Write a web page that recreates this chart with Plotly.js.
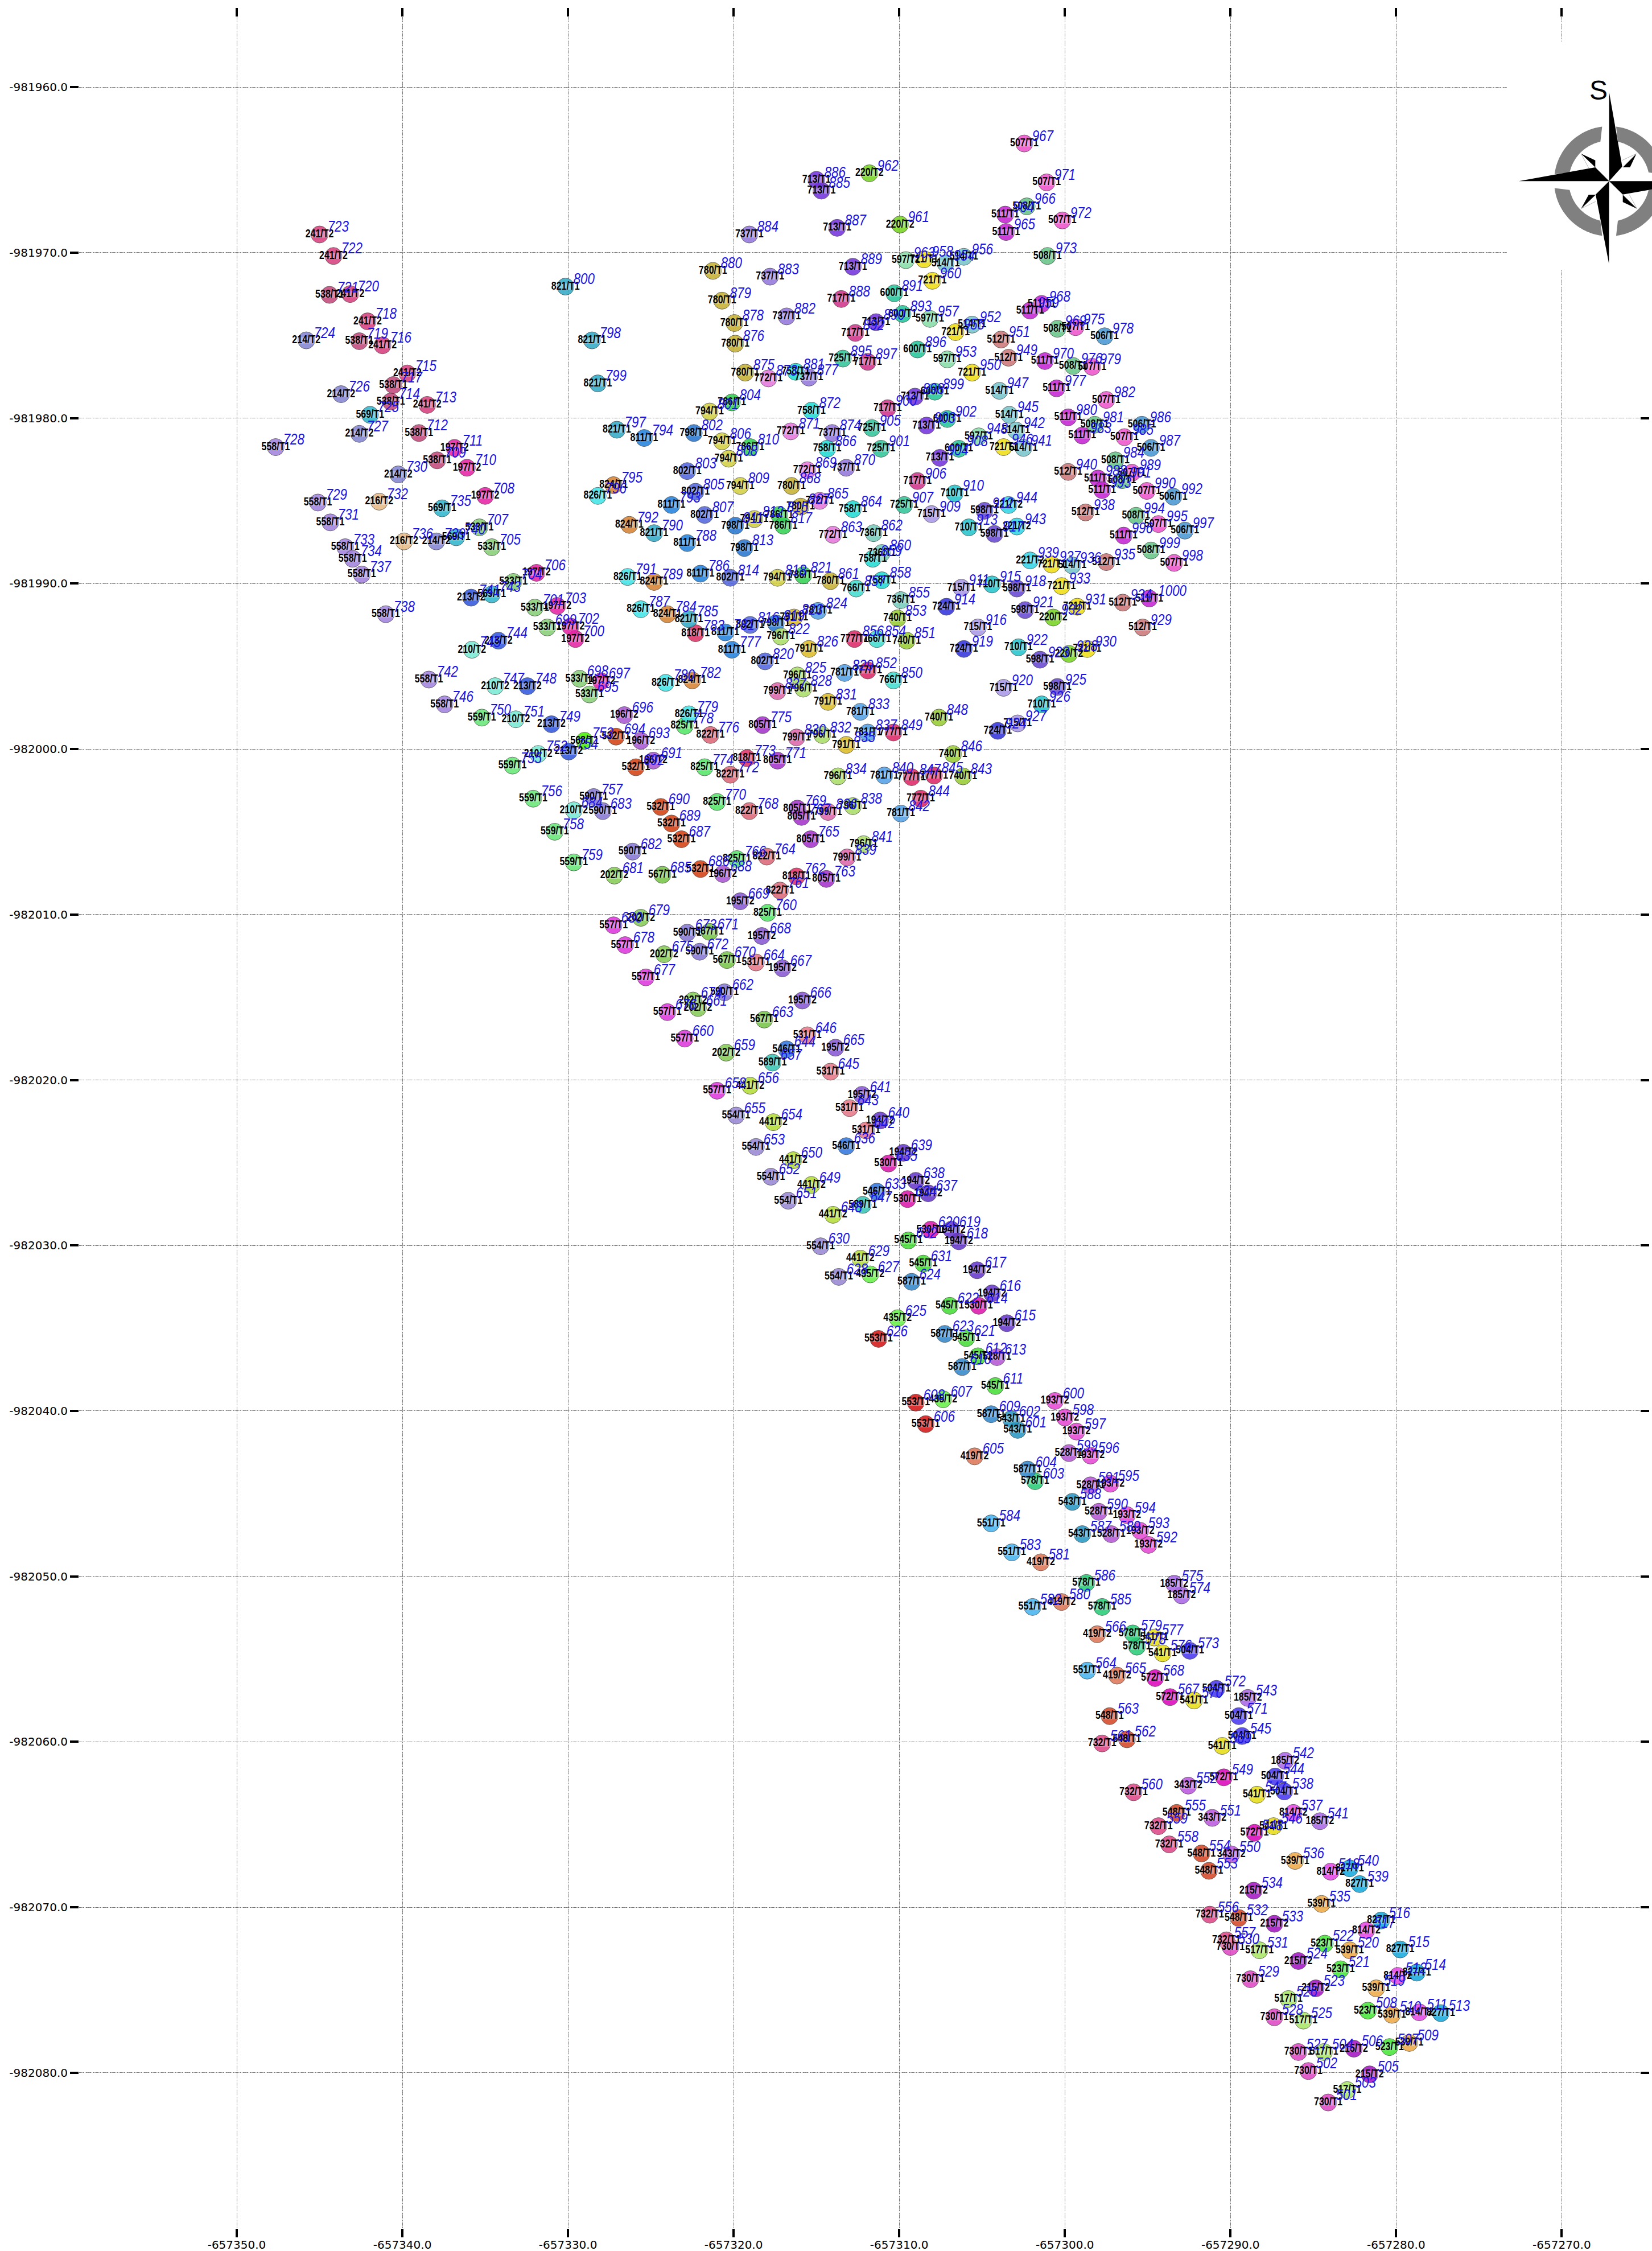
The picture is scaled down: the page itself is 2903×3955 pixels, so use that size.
<!DOCTYPE html>
<html><head><meta charset="utf-8">
<script src="https://cdn.plot.ly/plotly-3.0.1.min.js"></script>
<style>html,body{margin:0;padding:0;background:#fff}#plot{width:2903px;height:3955px}</style>
</head><body><div id="plot"></div>
<script>
// Survey origin of the offsets below: metres east of -657350 and metres south of -981960
const originEast = -657350;
const originNorth = -981960;
const xTickValues = [-657350,-657340,-657330,-657320,-657310,-657300,-657290,-657280,-657270];
const xTickLabels = ["-657350.0","-657340.0","-657330.0","-657320.0","-657310.0","-657300.0","-657290.0","-657280.0","-657270.0"];
const yTickValues = [-981960,-981970,-981980,-981990,-982000,-982010,-982020,-982030,-982040,-982050,-982060,-982070,-982080];
const yTickLabels = ["-981960.0","-981970.0","-981980.0","-981990.0","-982000.0","-982010.0","-982020.0","-982030.0","-982040.0","-982050.0","-982060.0","-982070.0","-982080.0"];

const pointIds = [
501,502,503,504,505,506,507,508,509,510,511,512,513,514,515,516,517,518,519,520,
521,522,523,524,525,526,527,528,529,530,531,532,533,534,535,536,537,538,539,540,
541,542,543,544,545,546,547,548,549,550,551,552,553,554,555,556,557,558,559,560,
561,562,563,564,565,566,567,568,569,570,571,572,573,574,575,576,577,578,579,580,
581,582,583,584,585,586,587,588,589,590,591,592,593,594,595,596,597,598,599,600,
601,602,603,604,605,606,607,608,609,610,611,612,613,614,615,616,617,618,619,620,
621,622,623,624,625,626,627,628,629,630,631,632,633,634,635,636,637,638,639,640,
641,642,643,644,645,646,647,648,649,650,651,652,653,654,655,656,657,658,659,660,
661,662,663,664,665,666,667,668,669,670,671,672,673,674,675,676,677,678,679,680,
681,682,683,684,685,686,687,688,689,690,691,692,693,694,695,696,697,698,699,700,
701,702,703,704,705,706,707,708,709,710,711,712,713,714,715,716,717,718,719,720,
721,722,723,724,725,726,727,728,729,730,731,732,733,734,735,736,737,738,739,740,
741,742,743,744,745,746,747,748,749,750,751,752,753,754,755,756,757,758,759,760,
761,762,763,764,765,766,767,768,769,770,771,772,773,774,775,776,777,778,779,780,
781,782,783,784,785,786,787,788,789,790,791,792,793,794,795,796,797,798,799,800,
801,802,803,804,805,806,807,808,809,810,811,812,813,814,815,816,817,818,819,820,
821,822,823,824,825,826,827,828,829,830,831,832,833,834,835,836,837,838,839,840,
841,842,843,844,845,846,847,848,849,850,851,852,853,854,855,856,857,858,859,860,
861,862,863,864,865,866,867,868,869,870,871,872,873,874,875,876,877,878,879,880,
881,882,883,884,885,886,887,888,889,890,891,892,893,895,896,897,898,899,900,
901,902,903,904,905,906,907,908,909,910,911,912,913,914,915,916,917,918,919,920,
921,922,923,924,925,926,927,928,929,930,931,932,933,934,935,936,937,938,939,940,
941,942,943,944,945,946,947,948,949,950,951,952,953,954,955,956,957,958,959,960,
961,962,963,964,965,966,967,968,969,970,971,972,973,975,976,977,978,979,980,
981,982,983,984,985,986,987,988,989,990,991,992,993,994,995,996,997,998,999,1000];

const pointLabels = [
"730/T1","730/T1","517/T1","517/T1","215/T2","215/T2","523/T1","523/T1","539/T1","539/T1","814/T2","814/T2","827/T1","827/T1","827/T1","827/T1","814/T2","814/T2","539/T1","539/T1",
"523/T1","523/T1","215/T2","215/T2","517/T1","517/T1","730/T1","730/T1","730/T1","730/T1","517/T1","548/T1","215/T2","215/T2","539/T1","539/T1","814/T2","504/T1","827/T1","827/T1",
"185/T2","185/T2","185/T2","504/T1","504/T1","541/T1","541/T1","572/T1","572/T1","343/T2","343/T2","343/T2","548/T1","548/T1","548/T1","732/T1","732/T1","732/T1","732/T1","732/T1",
"732/T1","548/T1","548/T1","551/T1","419/T2","419/T2","572/T1","572/T1","541/T1","541/T1","504/T1","504/T1","504/T1","185/T2","185/T2","541/T1","541/T1","578/T1","578/T1","419/T2",
"419/T2","551/T1","551/T1","551/T1","578/T1","578/T1","543/T1","543/T1","528/T1","528/T1","528/T1","193/T2","193/T2","193/T2","193/T2","193/T2","193/T2","193/T2","528/T1","193/T2",
"543/T1","543/T1","578/T1","587/T1","419/T2","553/T1","435/T2","553/T1","587/T1","587/T1","545/T1","545/T1","528/T1","530/T1","194/T2","194/T2","194/T2","194/T2","194/T2","530/T1",
"545/T1","545/T1","587/T1","587/T1","435/T2","553/T1","435/T2","554/T1","441/T2","554/T1","545/T1","545/T1","546/T1","530/T1","530/T1","546/T1","194/T2","194/T2","194/T2","194/T2",
"195/T2","531/T1","531/T1","546/T1","531/T1","531/T1","589/T1","441/T2","441/T2","441/T2","554/T1","554/T1","554/T1","441/T2","554/T1","441/T2","589/T1","557/T1","202/T2","557/T1",
"202/T2","590/T1","567/T1","531/T1","195/T2","195/T2","195/T2","195/T2","195/T2","567/T1","567/T1","590/T1","590/T1","202/T2","202/T2","557/T1","557/T1","557/T1","202/T2","557/T1",
"202/T2","590/T1","590/T1","210/T2","567/T1","532/T1","532/T1","196/T2","532/T1","532/T1","196/T2","532/T1","196/T2","532/T1","533/T1","196/T2","197/T2","533/T1","533/T1","197/T2",
"533/T1","197/T2","197/T2","533/T1","533/T1","197/T2","533/T1","197/T2","538/T1","197/T2","197/T2","538/T1","241/T2","538/T1","241/T2","241/T2","538/T1","241/T2","538/T1","241/T2",
"538/T1","241/T2","241/T2","214/T2","569/T1","214/T2","214/T2","558/T1","558/T1","214/T2","558/T1","216/T2","558/T1","558/T1","569/T1","216/T2","558/T1","558/T1","214/T2","569/T1",
"213/T2","558/T1","569/T1","213/T2","210/T2","558/T1","210/T2","213/T2","213/T2","559/T1","210/T2","210/T2","568/T1","213/T2","559/T1","559/T1","590/T1","559/T1","559/T1","825/T1",
"822/T1","818/T1","805/T1","822/T1","805/T1","825/T1","805/T1","822/T1","805/T1","825/T1","805/T1","822/T1","818/T1","825/T1","805/T1","822/T1","811/T1","825/T1","826/T1","826/T1",
"811/T1","824/T1","818/T1","824/T1","821/T1","811/T1","826/T1","811/T1","824/T1","821/T1","826/T1","824/T1","811/T1","811/T1","824/T1","826/T1","821/T1","821/T1","821/T1","821/T1",
"794/T1","798/T1","802/T1","786/T1","802/T1","794/T1","802/T1","794/T1","794/T1","786/T1","798/T1","794/T1","798/T1","802/T1","786/T1","802/T1","786/T1","794/T1","798/T1","802/T1",
"786/T1","796/T1","791/T1","781/T1","796/T1","791/T1","799/T1","796/T1","781/T1","799/T1","791/T1","796/T1","781/T1","796/T1","791/T1","799/T1","781/T1","796/T1","799/T1","781/T1",
"796/T1","781/T1","740/T1","777/T1","777/T1","740/T1","777/T1","740/T1","777/T1","766/T1","740/T1","777/T1","740/T1","766/T1","736/T1","777/T1","766/T1","758/T1","758/T1","736/T1",
"780/T1","736/T1","772/T1","758/T1","772/T1","758/T1","780/T1","780/T1","772/T1","737/T1","772/T1","758/T1","772/T1","737/T1","780/T1","780/T1","737/T1","780/T1","780/T1","780/T1",
"758/T1","737/T1","737/T1","737/T1","713/T1","713/T1","713/T1","717/T1","713/T1","713/T1","600/T1","717/T1","600/T1","725/T1","600/T1","717/T1","713/T1","600/T1","717/T1",
"725/T1","600/T1","713/T1","713/T1","725/T1","717/T1","725/T1","600/T1","715/T1","710/T1","715/T1","598/T1","710/T1","724/T1","710/T1","715/T1","598/T1","598/T1","724/T1","715/T1",
"598/T1","710/T1","598/T1","724/T1","598/T1","710/T1","715/T1","220/T2","512/T1","721/T1","721/T1","220/T2","721/T1","512/T1","512/T1","514/T1","721/T1","512/T1","221/T2","512/T1",
"514/T1","514/T1","221/T2","221/T2","514/T1","721/T1","514/T1","597/T1","512/T1","721/T1","512/T1","514/T1","597/T1","514/T1","721/T1","514/T1","597/T1","721/T1","511/T1","721/T1",
"220/T2","220/T2","597/T1","511/T1","511/T1","508/T1","507/T1","511/T1","508/T1","511/T1","507/T1","507/T1","508/T1","507/T1","508/T1","511/T1","506/T1","507/T1","511/T1",
"508/T1","507/T1","511/T1","508/T1","507/T1","506/T1","506/T1","511/T1","507/T1","507/T1","508/T1","506/T1","511/T1","508/T1","507/T1","511/T1","506/T1","507/T1","508/T1","511/T1"];

const metresEast = [
65.9,64.7,67.05,65.65,68.4,67.45,69.6,68.3,70.8,69.75,71.4,70.1,72.7,71.25,70.25,69.1,68.2,66.05,68.8,67.2,
66.65,65.7,65.15,64.1,64.4,63.5,64.1,62.65,61.2,60.0,61.75,60.5,62.65,61.4,65.5,63.9,63.8,63.25,67.8,67.2,
65.4,63.3,61.05,62.7,60.7,62.6,61.6,61.45,59.6,60.05,58.9,57.45,58.7,58.25,56.75,58.75,59.75,56.3,55.65,54.15,
52.25,53.75,52.7,51.35,53.15,51.95,56.35,55.45,59.5,57.8,60.5,59.15,57.55,57.05,56.6,55.9,55.4,54.35,54.1,49.8,
48.55,48.05,46.8,45.55,52.25,51.3,51.05,50.45,52.8,52.05,51.55,55.05,54.55,53.75,52.75,51.55,50.7,50.0,50.25,49.4,
47.15,46.75,48.2,47.75,44.55,41.6,42.65,41.0,45.55,43.8,45.8,44.75,45.9,44.8,46.5,45.6,44.7,43.6,43.15,41.9,
44.05,43.05,42.75,40.75,39.9,38.75,38.25,36.35,37.65,35.25,41.45,40.55,38.65,40.5,39.35,36.8,41.75,41.0,40.25,38.85,
37.75,38.0,37.0,33.2,35.85,34.45,37.8,36.0,34.7,33.6,33.3,32.25,31.35,32.4,30.15,31.0,32.35,29.0,29.55,27.05,
27.85,29.45,31.85,31.35,36.15,34.15,32.95,31.7,30.4,29.6,28.55,27.95,27.2,27.55,25.8,26.0,24.7,23.45,24.4,22.75,
22.8,23.9,22.1,20.35,25.7,28.0,26.85,29.35,26.25,25.6,25.15,24.1,24.4,22.9,21.3,23.4,22.0,20.7,18.75,20.45,
18.0,20.15,19.35,16.7,15.4,18.1,14.65,15.0,12.1,13.9,13.15,11.0,11.5,9.3,10.3,8.8,9.45,7.9,7.4,6.85,
5.6,5.84,5.0,4.2,8.05,6.3,7.4,2.35,4.9,9.75,5.65,8.6,6.55,7.0,12.4,10.1,7.55,9.0,12.05,13.25,
14.15,11.6,15.4,15.8,14.2,12.55,15.6,17.55,19.0,14.8,16.85,18.2,21.0,20.05,16.65,17.9,21.55,19.2,20.35,32.05,
32.8,33.8,35.6,32.0,34.65,30.2,34.1,30.95,33.85,29.0,32.65,29.8,30.8,28.25,31.75,28.6,29.9,27.05,27.3,25.9,
29.5,27.5,27.7,26.0,27.3,28.0,24.4,27.2,25.2,25.2,23.6,23.7,26.25,24.6,22.75,21.8,22.95,21.45,21.8,19.85,
28.55,27.6,27.2,29.9,27.7,29.3,28.25,29.7,30.4,31.0,30.1,31.25,30.65,29.8,32.75,31.0,33.0,32.65,32.55,31.9,
34.2,32.85,33.65,35.1,33.85,34.55,32.65,34.2,36.7,33.8,35.7,35.35,37.65,36.3,36.8,35.7,38.1,37.2,36.85,39.1,
37.85,40.1,43.85,41.3,42.1,43.25,40.75,42.4,39.65,39.65,40.45,38.1,39.9,38.65,40.1,37.3,37.4,38.95,38.4,38.95,
35.85,38.45,36.0,37.2,35.2,35.65,34.05,33.5,34.45,36.8,33.45,34.7,32.1,35.95,30.7,30.1,34.55,30.05,29.3,28.75,
33.75,33.2,32.2,30.95,35.3,35.0,36.25,36.5,37.2,38.6,39.7,37.35,40.2,36.6,41.1,38.1,40.95,42.15,39.3,
38.9,42.9,41.65,42.45,38.35,41.1,40.3,43.6,41.95,43.35,43.75,45.15,44.2,42.85,45.6,44.75,45.75,47.1,43.9,46.3,
47.6,47.2,48.5,45.95,49.55,48.6,47.15,50.25,54.7,51.35,50.75,49.3,49.8,53.5,52.5,50.45,49.2,51.25,47.9,50.2,
47.5,47.05,47.1,46.6,46.65,46.3,46.05,44.8,46.6,44.4,46.15,44.4,42.9,42.8,43.4,43.9,41.85,41.5,47.9,42.0,
40.05,38.2,40.4,46.4,46.45,47.7,47.55,48.6,49.55,48.8,48.9,49.85,48.95,50.65,50.5,49.5,52.4,51.65,50.2,
51.8,52.5,51.05,53.05,53.6,54.65,55.2,52.0,54.05,54.95,53.45,56.55,52.25,54.3,55.65,53.55,57.25,56.6,55.2,55.1];

const metresSouth = [
121.8,119.9,121.05,118.75,120.1,118.55,118.45,116.25,118.2,116.5,116.35,114.15,116.4,113.95,112.55,110.8,111.4,107.85,114.9,112.6,
113.75,112.2,114.9,113.25,116.85,115.55,118.75,116.65,114.35,112.4,112.6,110.65,111.0,109.0,109.8,107.2,104.3,103.0,108.6,107.65,
104.8,101.15,97.35,102.1,99.65,105.1,103.2,105.5,102.15,106.8,104.6,102.65,107.8,106.75,104.3,110.45,112.0,106.2,105.1,103.05,
100.1,99.85,98.45,95.7,96.0,93.5,97.3,96.15,100.25,97.5,98.45,96.8,94.5,91.15,90.45,94.65,93.7,94.25,93.45,91.55,
89.15,91.85,88.55,86.8,91.85,90.4,87.45,85.5,87.45,86.1,84.5,88.1,87.25,86.3,84.4,82.7,81.25,80.4,82.55,79.4,
81.15,80.5,84.25,83.55,82.75,80.8,79.3,79.5,80.2,77.35,78.5,76.7,76.75,73.65,74.7,72.9,71.5,69.75,69.05,69.05,
75.6,73.65,75.35,72.2,74.4,75.65,71.75,71.9,70.8,70.05,71.1,69.7,66.75,67.2,65.05,64.0,66.85,66.1,64.4,62.45,
60.9,63.05,61.7,58.15,59.5,57.3,67.55,68.15,66.35,64.85,67.3,65.85,64.05,62.55,62.15,60.35,58.95,60.65,58.35,57.5,
55.65,54.7,56.35,52.9,58.05,55.2,53.25,51.3,49.2,52.75,51.05,52.25,51.1,55.2,52.4,55.9,53.8,51.85,50.2,50.65,
47.65,46.2,43.75,43.7,47.6,47.25,45.45,47.55,44.5,43.5,40.7,41.1,39.5,39.25,36.7,37.95,35.9,35.75,32.65,33.35,
31.45,32.6,31.35,29.9,27.8,29.35,26.6,24.7,22.55,23.0,21.8,20.9,19.2,19.0,17.3,15.6,18.0,14.15,15.35,12.5,
12.55,10.2,8.9,15.3,19.8,18.55,20.95,21.75,25.1,23.4,26.3,25.05,27.8,28.5,25.45,27.45,29.45,31.85,27.45,27.2,
30.85,35.8,30.65,33.45,34.0,37.3,36.2,36.2,38.5,38.1,38.2,40.3,39.5,40.15,41.0,43.0,42.9,45.0,46.85,49.9,
48.55,47.7,47.85,46.5,45.45,46.65,44.1,43.75,43.6,43.2,40.7,41.55,40.55,41.1,38.55,39.15,34.0,38.6,37.9,36.0,
32.95,35.85,33.0,31.85,32.15,29.4,31.55,27.55,29.9,26.95,29.6,26.45,25.25,21.2,24.05,24.7,20.7,15.3,17.9,12.05,
19.6,20.9,23.2,19.05,24.45,21.4,25.85,22.45,24.1,21.75,26.5,26.1,27.85,29.65,25.85,32.5,26.5,29.65,32.4,34.7,
29.5,33.2,32.05,31.65,35.55,33.95,36.5,36.35,35.4,39.3,37.15,39.15,37.75,41.65,39.75,43.8,39.0,43.45,46.55,41.6,
45.75,43.9,41.65,43.0,41.6,40.3,41.7,38.1,39.0,35.85,33.45,35.25,32.1,33.35,31.0,33.35,30.3,29.8,28.5,28.15,
29.85,26.95,27.05,25.5,25.0,21.85,25.35,24.1,23.15,23.0,20.8,19.55,17.6,20.9,17.25,15.5,17.55,14.25,12.9,11.1,
17.2,13.85,11.45,8.9,6.25,5.6,8.5,12.8,10.85,14.2,12.45,14.85,13.7,16.4,15.85,16.6,18.7,18.4,19.4,
21.85,20.05,20.45,22.4,20.6,23.8,25.25,21.85,25.8,24.55,30.25,25.6,26.6,31.4,30.05,32.65,27.0,30.3,33.95,36.3,
31.6,33.85,34.6,38.9,36.25,37.3,38.45,34.25,32.65,33.95,31.4,32.05,30.15,31.15,28.7,28.9,28.85,25.7,28.6,23.25,
21.8,20.75,26.55,25.25,19.8,21.75,18.35,21.1,16.35,17.25,15.25,14.35,16.45,10.65,14.8,10.25,14.0,10.4,13.5,11.7,
8.3,5.2,10.45,7.7,8.75,7.2,3.4,13.1,14.6,16.55,5.75,8.05,10.2,14.5,16.85,18.2,15.05,16.9,19.95,
20.4,18.9,21.05,22.55,21.15,20.4,21.8,23.65,23.3,24.4,23.75,24.75,24.35,25.9,26.4,27.1,26.8,28.75,28.0,30.9];

// Styles
const labelColors = {
"241/T2":"#d8407f","538/T1":"#c44a7c","214/T2":"#8585d2","569/T1":"#32b6cc","558/T1":"#a283de","197/T2":"#e624a6","216/T2":"#e6ba88","533/T1":"#88d078",
"821/T1":"#34aac6","811/T1":"#2484de","826/T1":"#44e4e6","824/T1":"#d68434","802/T1":"#5468de","798/T1":"#2878d2","794/T1":"#d2d044","786/T1":"#34d254",
"780/T1":"#c6b234","772/T1":"#e678de","758/T1":"#22dcd4","737/T1":"#9478de","717/T1":"#d2348a","713/T1":"#7434de","725/T1":"#34c69a","600/T1":"#26c69a",
"597/T1":"#88dea8","721/T1":"#f0de14","514/T1":"#78c6cc","512/T1":"#cc7878","511/T1":"#c626d4","508/T1":"#68c688","507/T1":"#ee54cc","506/T1":"#4898d4",
"220/T2":"#78d424","736/T1":"#78ccbc","715/T1":"#aa98e6","710/T1":"#26c6cc","598/T1":"#6848d2","221/T2":"#34d4e6","724/T1":"#3434de","740/T1":"#98cc34",
"766/T1":"#44ded0","777/T1":"#de2868","781/T1":"#54a2e6","791/T1":"#dcbc28","799/T1":"#de68aa","796/T1":"#aade68","805/T1":"#a434cc","818/T1":"#de3468",
"822/T1":"#de6878","825/T1":"#54e668","210/T2":"#78ead4","213/T2":"#3458de","559/T1":"#68e678","568/T1":"#48f008","196/T2":"#aa58d4","532/T1":"#d64214",
"590/T1":"#8878d4","202/T2":"#88cc58","567/T1":"#78c448","195/T2":"#8858d4","557/T1":"#de38de","531/T1":"#e67888","546/T1":"#3478de","589/T1":"#38c4b4",
"441/T2":"#b4de38","554/T1":"#9888d4","530/T1":"#de18ac","194/T2":"#6838cc","545/T1":"#48de38","435/T2":"#68f048","587/T1":"#3488cc","553/T1":"#d41818",
"528/T1":"#b458d4","193/T2":"#e648d4","543/T1":"#2898c4","578/T1":"#28cc78","419/T2":"#de7858","551/T1":"#48b4f0","185/T2":"#aa68e6","504/T1":"#4838f0",
"541/T1":"#e6de18","572/T1":"#de08bc","548/T1":"#d44828","732/T1":"#de4888","343/T2":"#bc58de","814/T2":"#e648e6","539/T1":"#f0aa48","827/T1":"#18aade",
"215/T2":"#a418c4","523/T1":"#48e638","730/T1":"#de48c4","517/T1":"#aae668"};

const eastings = metresEast.map(v => originEast + v);
const northings = metresSouth.map(v => originNorth - v);

// Full-image pixel frame of the plot, used only to place the compass decoration
const frame = {l:139, r:2882, t:30, b:3915};
const px = x => (x - frame.l) / (frame.r - frame.l);
const py = y => 1 - (y - frame.t) / (frame.b - frame.t);
const zx = v => 2600 + v / 3, zy = v => v / 3;
function poly(points, fill, line) {
  const d = points.map((p,i) => (i ? 'L' : 'M') + px(zx(p[0])).toFixed(5) + ' ' + py(zy(p[1])).toFixed(5)).join(' ') + (fill ? ' Z' : '');
  return {type:'path', xref:'paper', yref:'paper', layer:'above', path:d,
          fillcolor: fill || 'rgba(0,0,0,0)', line:{color: line || fill || '#000', width: line ? 0.7 : 0}};
}
const cx = 683, cy = 955, rOut = 290, rIn = 213;
function ringSegment(a0in, a1in, a0out, a1out) {
  const pts = [];
  const N = 40;
  for (let i = 0; i <= N; i++) { const a = (a0out + (a1out - a0out) * i / N) * Math.PI / 180; pts.push([cx + rOut * Math.sin(a), cy - rOut * Math.cos(a)]); }
  for (let i = N; i >= 0; i--) { const a = (a0in + (a1in - a0in) * i / N) * Math.PI / 180; pts.push([cx + rIn * Math.sin(a), cy - rIn * Math.cos(a)]); }
  return poly(pts, '#808080');
}
const compass = [
  {type:'rect', xref:'paper', yref:'paper', layer:'above', x0:px(2648), x1:px(2910), y0:py(73), y1:py(473), fillcolor:'#ffffff', line:{width:0}},
  ringSegment(12.5, 77.5, 7.3, 82.7), ringSegment(102.5, 167.5, 97.3, 172.7),
  ringSegment(192.5, 257.5, 187.3, 262.7), ringSegment(282.5, 347.5, 277.3, 352.7),
  poly([[683,485],[752,878],[683,955]], '#000'),
  poly([[683,955],[1159,955],[755,1025]], '#000'),
  poly([[682,1390],[612,1025],[683,955]], '#000'),
  poly([[207,955],[610,882],[683,955]], '#000'),
  poly([[827,810],[793,882],[755,882]], '#000'),
  poly([[535,810],[610,845],[610,882]], '#000'),
  poly([[535,1100],[575,1027],[612,1027]], '#000'),
  poly([[830,1100],[755,1065],[755,1027]], '#000'),
  poly([[827,810],[752,845]], null, '#999'),
  poly([[535,810],[575,885]], null, '#999'),
  poly([[535,1100],[612,1062]], null, '#999'),
  poly([[830,1100],[790,1027]], null, '#999')
];

const idAnnotations = pointIds.map((id,i) => ({
  x:eastings[i], y:northings[i], xref:'x', yref:'y', text:String(id), showarrow:false,
  xanchor:'left', yanchor:'middle', xshift:8, yshift:14, borderpad:0,
  font:{family:'"Liberation Sans",sans-serif', size:28, style:'italic', color:'#1a14e6'}
}));
idAnnotations.push({x:px(2827), y:py(130), xref:'paper', yref:'paper', text:'S', showarrow:false,
  font:{family:'"Liberation Sans",sans-serif', size:48, color:'#000'}});

const traces = [
 {type:'scatter', mode:'markers', x:eastings, y:northings, hoverinfo:'skip', showlegend:false,
  marker:{size:30, opacity:0.88, color:pointLabels.map(l => labelColors[l]), line:{color:'#3a3a3a', width:0.8}}},
 {type:'scatter', mode:'markers', x:eastings, y:northings, hoverinfo:'skip', showlegend:false,
  marker:{symbol:'line-ew', size:28, color:'rgba(255,255,255,0.32)', line:{color:'rgba(255,255,255,0.32)', width:11}}},
 {type:'scatter', mode:'text', x:eastings, y:northings, text:pointLabels, textposition:'middle center', hoverinfo:'skip', showlegend:false,
  textfont:{family:'"Liberation Sans",sans-serif', size:20, weight:'bold', color:'#000'}}
];
const gridDash = '3px,1px,1px,1px';
const tickFont = {family:'"DejaVu Sans",sans-serif', size:20, color:'#000'};
const layout = {
  width:2903, height:3955, autosize:false, paper_bgcolor:'#fff', plot_bgcolor:'#fff', showlegend:false,
  margin:{l:frame.l, r:2903-frame.r, t:frame.t, b:3955-frame.b, pad:0},
  xaxis:{range:[-657359.518,-657265.27], tickmode:'array', tickvals:xTickValues, ticktext:xTickLabels, ticks:'outside', ticklen:15, tickwidth:4, tickcolor:'#000',
         ticklabelstandoff:-4, mirror:'ticks', showline:false, zeroline:false, showgrid:true, gridcolor:'#707070', gridwidth:1, griddash:gridDash, tickfont:tickFont},
  yaxis:{range:[-982089.4,-981955.76], tickmode:'array', tickvals:yTickValues, ticktext:yTickLabels, ticks:'outside', ticklen:15, tickwidth:4, tickcolor:'#000',
         mirror:'ticks', showline:false, zeroline:false, showgrid:true, gridcolor:'#707070', gridwidth:1, griddash:gridDash, tickfont:tickFont},
  shapes:compass, annotations:idAnnotations
};
// The reference text is horizontally condensed: narrow the rendered glyphs, keeping them real text
function condense(nodes, factor) {
  nodes.forEach(t => {
    if (t.textContent === 'S') return;
    const w = t.getComputedTextLength();
    t.setAttribute('textLength', (w * factor).toFixed(2));
    t.setAttribute('lengthAdjust', 'spacingAndGlyphs');
  });
}
Plotly.newPlot('plot', traces, layout, {staticPlot:true, displayModeBar:false}).then(gd => {
  condense(gd.querySelectorAll('.textpoint text'), 0.8);
  condense(gd.querySelectorAll('.annotation-text'), 0.8);
});
</script></body></html>
